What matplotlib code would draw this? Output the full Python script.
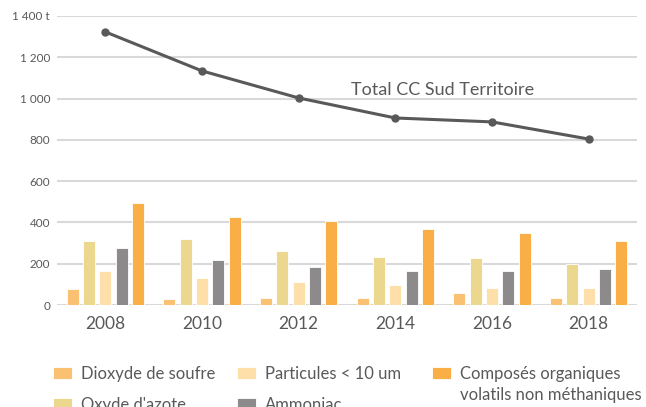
import matplotlib.pyplot as plt
import numpy as np

plt.rcParams["font.family"] = ["Lato", "DejaVu Sans"]

years = ["2008", "2010", "2012", "2014", "2016", "2018"]
dioxyde_soufre = [77, 29, 34, 34, 58, 34]
oxyde_azote = [311, 320, 262, 233, 229, 199]
particules = [163, 131, 113, 97, 81, 82]
ammoniac = [275, 218, 184, 165, 165, 173]
covnm = [493, 426, 407, 370, 347, 311]
total = [1323, 1134, 1003, 906, 887, 804]

series = [
    ("Dioxyde de soufre", dioxyde_soufre, "#FAC172"),
    ("Oxyde d'azote", oxyde_azote, "#ECD78E"),
    ("Particules < 10 um", particules, "#FEDFAA"),
    ("Ammoniac", ammoniac, "#8C8A8A"),
    ("Composés organiques", covnm, "#F9AE46"),
]
covnm_line2 = "volatils non méthaniques"

grey = "#595959"
W, H = 646, 407

fig = plt.figure(figsize=(W / 100, H / 100), dpi=100)
ax = fig.add_axes([0.0882, 0.2506, 0.8978, 0.7101])

x = np.arange(len(years))
pitch = 0.169
width = 0.124
bars = []
for i, (label, vals, color) in enumerate(series):
    b = ax.bar(x + (i - 2) * pitch, vals, width, color=color, label=label,
               edgecolor="white", linewidth=0.6, zorder=3)
    bars.append(b)

ax.plot(x, total, color=grey, linewidth=2.2, marker="o", markersize=5,
        zorder=4)
ax.text(3.49, 1017, "Total CC Sud Territoire", color=grey,
        fontsize=13, ha="center", va="baseline")

ax.set_xlim(-0.5, 5.5)
ax.set_ylim(0, 1400)
yticks = np.arange(0, 1401, 200)
ax.set_yticks(yticks)
ax.set_yticklabels([f"{v:,}".replace(",", " ") + (" t" if v == 1400 else "")
                    for v in yticks])
ax.set_xticks(x)
ax.set_xticklabels(years)
ax.tick_params(axis="y", length=0, labelsize=8.5, labelcolor=grey, pad=5)
ax.tick_params(axis="x", length=0, labelsize=12.5, labelcolor=grey, pad=8)
ax.grid(axis="y", color="#D9D9D9", linewidth=1.5, zorder=0)
for s in ax.spines.values():
    s.set_visible(False)

# legend: one block per column, anchored at the handle's left edge
leg_kw = dict(loc="upper left", frameon=False, fontsize=12, handlelength=1.14,
              handleheight=0.78, handletextpad=0.52, labelspacing=0.92,
              borderpad=0, borderaxespad=0)
columns = [(53, [0, 1]), (237, [2, 3]), (432, [4])]
legends = []
for px, idx in columns:
    leg = fig.legend([bars[i] for i in idx], [series[i][0] for i in idx],
                     bbox_to_anchor=(px / W, 1 - 366 / H), **leg_kw)
    for t in leg.get_texts():
        t.set_color(grey)
    legends.append(leg)

# second line of the last legend label
fig.canvas.draw()
t1 = legends[2].get_texts()[0]
bb = t1.get_window_extent()
fig.text(bb.x0 / W, (bb.y0 - 21) / H, covnm_line2, fontsize=12, color=grey,
         ha="left", va="bottom")

fig.savefig("out.png", dpi=100)
